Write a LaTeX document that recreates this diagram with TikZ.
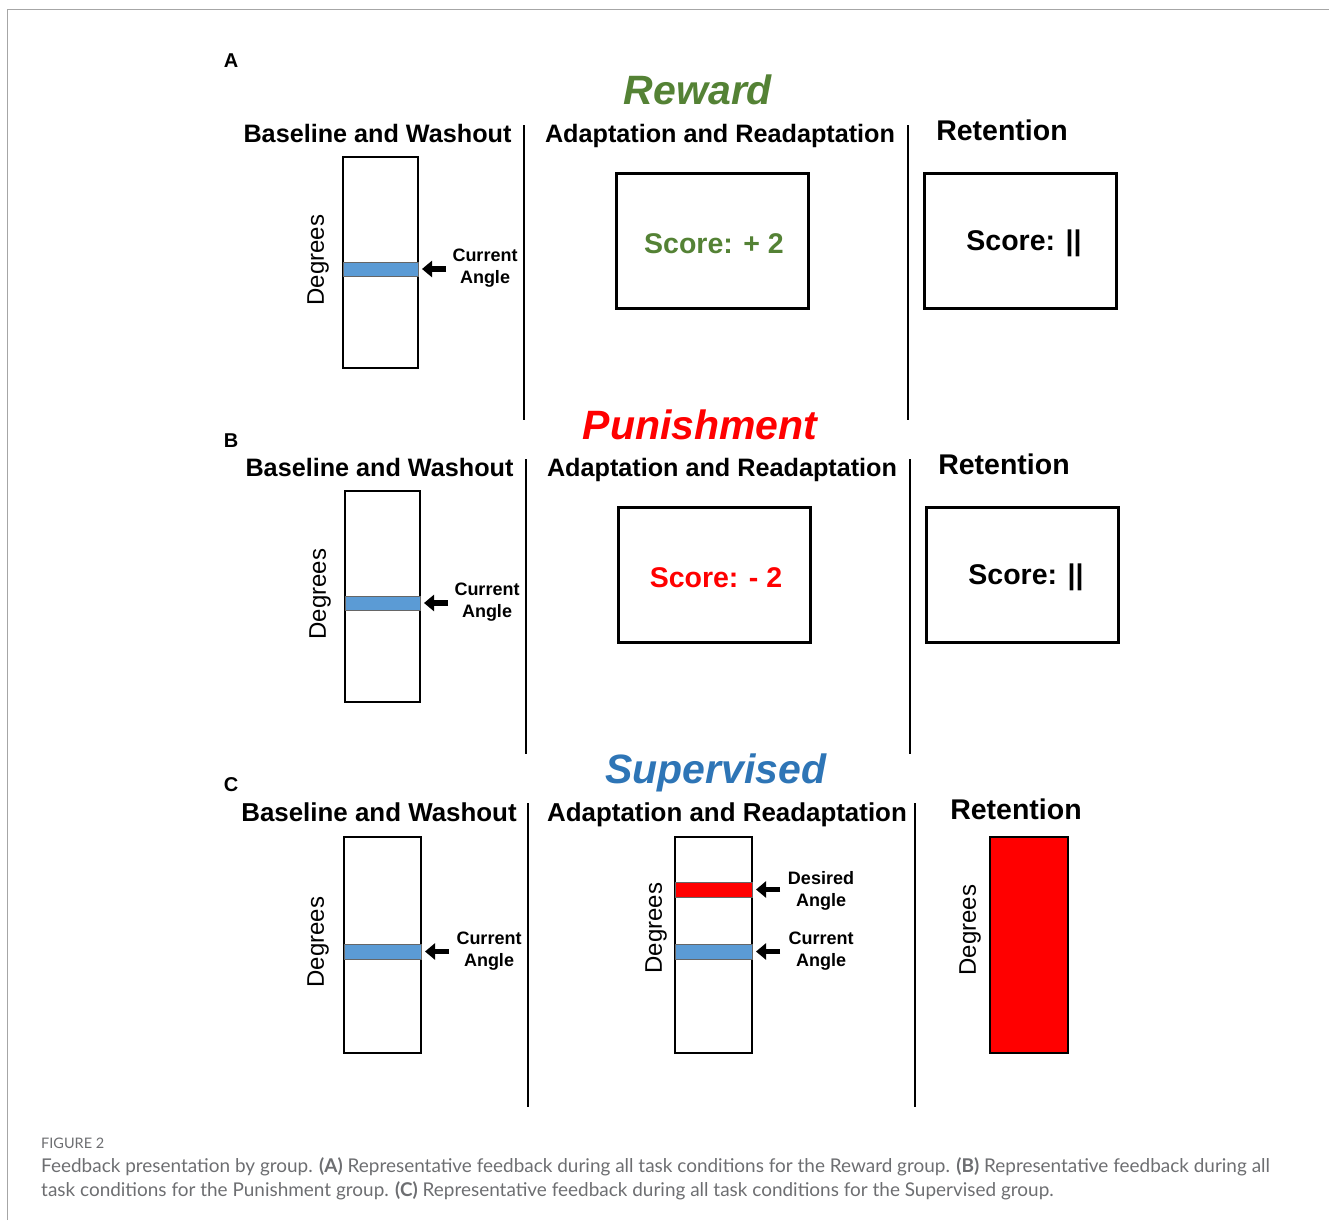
\documentclass[tikz,border=0pt]{standalone}
\usepackage{fontspec}
\setmainfont{Liberation Sans}
\newfontfamily\capfont{Lato}
\usetikzlibrary{arrows.meta}
\definecolor{rewardgreen}{HTML}{548235}
\definecolor{punred}{HTML}{FF0000}
\definecolor{supblue}{HTML}{2E75B6}
\definecolor{bandblue}{HTML}{5B9BD5}
\definecolor{capgray}{HTML}{6D6E71}
\definecolor{framegray}{HTML}{A6A6A6}
\newcommand{\lowered}[1]{\raisebox{-3pt}[\height][\depth]{#1}}
\tikzset{
  panellabel/.style={anchor=base, font=\bfseries\fontsize{20}{20}\selectfont, inner sep=0},
  grouptitle/.style={anchor=base, font=\bfseries\itshape\fontsize{41}{41}\selectfont, inner sep=0},
  header/.style={anchor=base, font=\bfseries\fontsize{#1}{#1}\selectfont, inner sep=0},
  divider/.style={line width=2.6pt, black},
  barbox/.style={draw, line width=2pt, fill=white, inner sep=0, outer sep=0, minimum width=#1},
  band/.style={draw=black!60, line width=0.6pt, fill=#1, inner sep=0, outer sep=0},
  scorebox/.style={draw, line width=3pt, inner sep=0, outer sep=0, minimum width=192pt, minimum height=135pt,
     font=\bfseries\fontsize{28.5}{28.5}\selectfont},
  degrees/.style={rotate=90, font=\fontsize{24}{24}\selectfont, inner sep=0},
  anglelabel/.style={align=center, font=\bfseries\fontsize{18}{22}\selectfont, inner sep=0},
  pointer/.style={line width=5.5pt, -{Triangle[length=10pt,width=16pt]}},
}
\begin{document}
\begin{tikzpicture}[x=1pt,y=-1pt]
\useasboundingbox (0,0) rectangle (1329,1220);
% frame
\draw[framegray, line width=1.5pt] (7.5,1220) -- (7.5,9.5) -- (1329,9.5);

% ================= Panel A =================
\node[panellabel] (labA) at (231,67.5) {A};
\node[grouptitle, text=rewardgreen] (tA) at (698,105) {Reward};
\node[header=25.2] (hA1) at (377.5,142) {Baseline and Washout};
\node[header=25.2] (hA2) at (720,142) {Adaptation and Readaptation};
\node[header=28.5] (hA3) at (1002,140) {Retention};
\draw[divider] (524,125) -- (524,420);
\draw[divider] (908,125) -- (908,420);
\node[barbox=75pt, minimum height=211pt] (barA) at (380.5,262.5) {};
\node[band=bandblue, minimum width=75pt, minimum height=14pt] (bandA) at (380.5,269) {};
\coordinate (tailA) at (446,269);
\draw[pointer] (tailA) -- ([xshift=4pt]bandA.east);
\node[anglelabel] (curA) at (485,268) {Current\\Angle};
\node[degrees] (degA) at (318,260) {Degrees};
\node[scorebox, text=rewardgreen] (scA) at (712,240.5) {\lowered{\hspace*{4pt}Score: + 2}};
\node[scorebox] (retA) at (1020,240.5) {\lowered{\hspace*{8pt}Score: ||}};

% ================= Panel B =================
\node[panellabel] (labB) at (231,447.5) {B};
\node[grouptitle, text=punred] (tB) at (700,439) {Punishment};
\node[header=25.2] (hB1) at (379.5,476) {Baseline and Washout};
\node[header=25.2] (hB2) at (722,476) {Adaptation and Readaptation};
\node[header=28.5] (hB3) at (1004,474) {Retention};
\draw[divider] (526,459) -- (526,754);
\draw[divider] (910,459) -- (910,754);
\node[barbox=75pt, minimum height=211pt] (barB) at (382.5,596.5) {};
\node[band=bandblue, minimum width=75pt, minimum height=14pt] (bandB) at (382.5,603) {};
\coordinate (tailB) at (448,603);
\draw[pointer] (tailB) -- ([xshift=4pt]bandB.east);
\node[anglelabel] (curB) at (487,602) {Current\\Angle};
\node[degrees] (degB) at (320,594) {Degrees};
\node[scorebox, text=punred] (scB) at (714,574.5) {\lowered{\hspace*{4pt}Score: - 2}};
\node[scorebox] (retB) at (1022,574.5) {\lowered{\hspace*{8pt}Score: ||}};

% ================= Panel C =================
\node[panellabel] (labC) at (231,791.5) {C};
\node[grouptitle, text=supblue] (tC) at (716,783) {Supervised};
\node[header=25.9] (hC1) at (379,821) {Baseline and Washout};
\node[header=25.9] (hC2) at (727,821) {Adaptation and Readaptation};
\node[header=28.5] (hC3) at (1016,819) {Retention};
\draw[divider] (528,803) -- (528,1107);
\draw[divider] (915,803) -- (915,1107);
% baseline bar
\node[barbox=77pt, minimum height=216pt] (barC1) at (382.5,945) {};
\node[band=bandblue, minimum width=77pt, minimum height=15pt] (bandC1) at (382.5,951.5) {};
\coordinate (tailC1) at (449,951.5);
\draw[pointer] (tailC1) -- ([xshift=4pt]bandC1.east);
\node[anglelabel] (curC1) at (489,951) {Current\\Angle};
\node[degrees] (degC1) at (318,942) {Degrees};
% adaptation bar
\node[barbox=77pt, minimum height=216pt] (barC2) at (713.5,945) {};
\node[band=punred, minimum width=77pt, minimum height=15pt] (redC2) at (713.5,889.5) {};
\node[band=bandblue, minimum width=77pt, minimum height=15pt] (bandC2) at (713.5,951.5) {};
\coordinate (tailC2a) at (780,889.5);
\coordinate (tailC2b) at (780,951.5);
\draw[pointer] (tailC2a) -- ([xshift=4pt]redC2.east);
\draw[pointer] (tailC2b) -- ([xshift=4pt]bandC2.east);
\node[anglelabel] (desC2) at (821,891) {Desired\\Angle};
\node[anglelabel] (curC2) at (821,951) {Current\\Angle};
\node[degrees] (degC2) at (656,928) {Degrees};
% retention bar
\node[draw, line width=2pt, fill=punred, inner sep=0, minimum width=78pt, minimum height=216pt] (retC) at (1029,945) {};
\node[degrees] (degC3) at (970,930) {Degrees};

% ================= Caption =================
\node[anchor=base west, inner sep=0, text=capgray, font=\capfont\fontsize{14.5}{14.5}\selectfont] (figno) at (41,1148) {FIGURE 2};
\node[anchor=base west, inner sep=0, text=capgray, font=\capfont\fontsize{18.95}{18.95}\selectfont] (cap1) at (41,1172)
  {Feedback presentation by group. \textbf{(A)} Representative feedback during all task conditions for the Reward group. \textbf{(B)} Representative feedback during all};
\node[anchor=base west, inner sep=0, text=capgray, font=\capfont\fontsize{18.95}{18.95}\selectfont] (cap2) at (41,1196)
  {task conditions for the Punishment group. \textbf{(C)} Representative feedback during all task conditions for the Supervised group.};
\end{tikzpicture}
\end{document}
